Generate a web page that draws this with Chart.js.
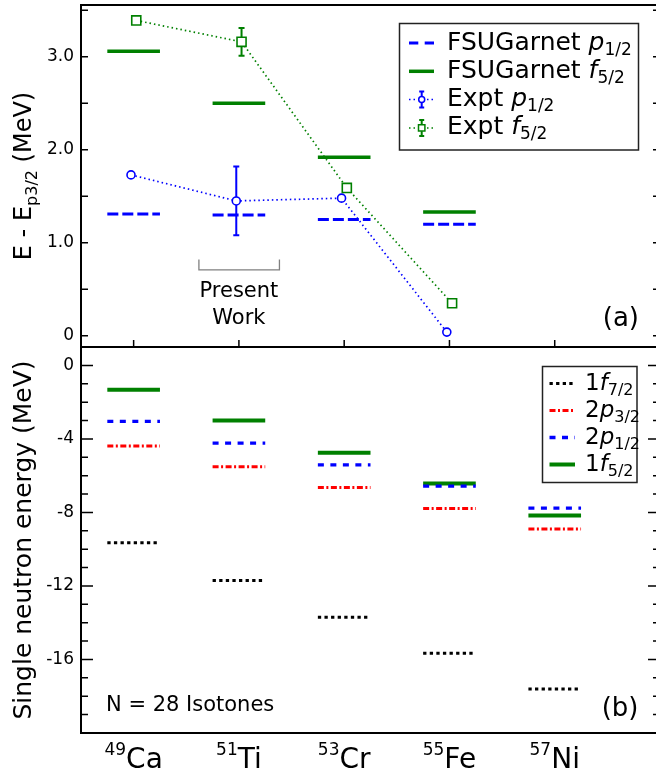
<!DOCTYPE html>
<html>
<head>
<meta charset="utf-8">
<title>N = 28 isotones</title>
<script src="https://cdn.jsdelivr.net/npm/chart.js@4.4.1/dist/chart.umd.min.js"></script>
<style>
  html, body { margin: 0; padding: 0; background: #fff; overflow: hidden; }
  body { width: 656px; height: 776px; position: relative; }
  canvas { position: absolute; left: 0; }
  #topChart { top: 0; }
  #bottomChart { top: 344px; }
</style>
</head>
<body>
<canvas id="topChart" width="662" height="350"></canvas>
<canvas id="bottomChart" width="662" height="432"></canvas>
<script>
// isotopes (categories)
const massNumbers = ['49', '51', '53', '55', '57'];
const elements = ['Ca', 'Ti', 'Cr', 'Fe', 'Ni'];

// (a) E - E(p3/2) in MeV
const garnetP12 = [1.31, 1.30, 1.25, 1.20, null];
const garnetF52 = [3.06, 2.50, 1.92, 1.33, null];
const exptP12 = [1.73, 1.45, 1.48, 0.04, null];
const exptP12Err = [0, 0.37, 0, 0, 0];
const exptF52 = [3.39, 3.16, 1.59, 0.35, null];
const exptF52Err = [0, 0.15, 0, 0, 0];

// (b) single neutron energies in MeV
const level1f72 = [-9.65, -11.70, -13.70, -15.66, -17.60];
const level2p32 = [-4.39, -5.52, -6.65, -7.79, -8.90];
const level2p12 = [-3.05, -4.23, -5.41, -6.57, -7.77];
const level1f52 = [-1.32, -3.00, -4.76, -6.43, -8.17];

// tick labels
const topTicks = [0, 1, 2, 3];
const bottomTicks = [0, -4, -8, -12, -16];

const FONT = 'DejaVu Sans';
const BLUE = '#0000ff', GREEN = '#008000', RED = '#ff0000', BLACK = '#000000';
const HALF = 0.25;   // half width of a level bar (category units)
const SHIFT = 0.025; // expt markers sit a bit off the tick
const OFF = 344;     // top of the lower canvas on the page

function levelBars(values) {
  const pts = [];
  values.forEach((v, i) => {
    if (v == null) return;
    pts.push({ x: i - HALF, y: v }, { x: i + HALF, y: v }, { x: i + HALF, y: null });
  });
  return pts;
}

function markers(values, dx) {
  return values.map((v, i) => ({ x: i + dx, y: v }));
}

// parts: [text, font, dy]
function richText(ctx, parts, x, y, align) {
  let w = 0;
  parts.forEach(p => { ctx.font = p[1]; w += ctx.measureText(p[0]).width; });
  let cx = align === 'center' ? x - w / 2 : align === 'right' ? x - w : x;
  ctx.textAlign = 'left';
  ctx.textBaseline = 'alphabetic';
  parts.forEach(p => {
    ctx.font = p[1];
    ctx.fillText(p[0], cx, y + (p[2] || 0));
    cx += ctx.measureText(p[0]).width;
  });
}

function f(size, style) {
  return (style ? style + ' ' : '') + size + 'px "' + FONT + '"';
}

function rotatedTitle(ctx, parts, x, y) {
  ctx.save();
  ctx.translate(x, y);
  ctx.rotate(-Math.PI / 2);
  ctx.fillStyle = '#000';
  richText(ctx, parts, 0, 0, 'center');
  ctx.restore();
}

function drawFrame(chart, cfg) {
  const { ctx, chartArea: a, scales: { x, y } } = chart;
  const major = y.ticks.map(t => t.value);
  ctx.save();
  ctx.strokeStyle = '#000';
  ctx.lineWidth = 1.5;
  ctx.beginPath();
  for (let v = Math.ceil(y.min / cfg.minorStep) * cfg.minorStep; v <= y.max + 1e-9; v += cfg.minorStep) {
    const py = y.getPixelForValue(v);
    const len = major.some(m => Math.abs(m - v) < 1e-6) ? cfg.majorLen : cfg.minorLen;
    ctx.moveTo(a.left, py); ctx.lineTo(a.left + len, py);
    ctx.moveTo(a.right, py); ctx.lineTo(a.right - len, py);
  }
  if (cfg.xTicks) {
    elements.forEach((e, i) => {
      const px = x.getPixelForValue(i);
      ctx.moveTo(px, a.bottom); ctx.lineTo(px, a.bottom - 7);
    });
  }
  ctx.stroke();
  ctx.lineWidth = 2;
  ctx.strokeRect(a.left, a.top, a.right - a.left, a.bottom - a.top);
  ctx.restore();
}

function drawErrorBars(chart, values, errs, dx, color) {
  const { ctx, scales: { x, y } } = chart;
  ctx.save();
  ctx.strokeStyle = color;
  ctx.lineWidth = 2;
  values.forEach((v, i) => {
    if (v == null || !errs[i]) return;
    const px = x.getPixelForValue(i + dx);
    const y1 = y.getPixelForValue(v - errs[i]);
    const y2 = y.getPixelForValue(v + errs[i]);
    ctx.beginPath();
    ctx.moveTo(px, y1); ctx.lineTo(px, y2);
    ctx.moveTo(px - 3, y1); ctx.lineTo(px + 3, y1);
    ctx.moveTo(px - 3, y2); ctx.lineTo(px + 3, y2);
    ctx.stroke();
  });
  ctx.restore();
}

function sampleLine(ctx, x1, x2, y, color, width, dash) {
  ctx.save();
  ctx.strokeStyle = color;
  ctx.lineWidth = width;
  ctx.setLineDash(dash || []);
  ctx.beginPath();
  ctx.moveTo(x1, y); ctx.lineTo(x2, y);
  ctx.stroke();
  ctx.restore();
}

function sampleMarker(ctx, x, y, color, square) {
  ctx.save();
  ctx.strokeStyle = color;
  ctx.lineWidth = 2;
  ctx.beginPath();
  ctx.moveTo(x, y - 8); ctx.lineTo(x, y + 8);
  ctx.moveTo(x - 2.5, y - 8); ctx.lineTo(x + 2.5, y - 8);
  ctx.moveTo(x - 2.5, y + 8); ctx.lineTo(x + 2.5, y + 8);
  ctx.stroke();
  ctx.fillStyle = '#fff';
  ctx.lineWidth = 1.5;
  ctx.beginPath();
  if (square) ctx.rect(x - 3.2, y - 3.2, 6.4, 6.4);
  else ctx.arc(x, y, 3, 0, Math.PI * 2);
  ctx.fill();
  ctx.stroke();
  ctx.restore();
}

function legendBox(ctx, x, y, w, h) {
  ctx.save();
  ctx.fillStyle = '#fff';
  ctx.strokeStyle = '#222';
  ctx.lineWidth = 1.5;
  ctx.fillRect(x, y, w, h);
  ctx.strokeRect(x, y, w, h);
  ctx.restore();
}

function yAxis(min, max, ticks, fmt) {
  return {
    min: min,
    max: max,
    afterBuildTicks: s => { s.ticks = ticks.map(v => ({ value: v })); },
    afterFit: s => { s.width = 81; s.paddingTop = 0; s.paddingBottom = 0; },
    grid: { display: false, drawTicks: false },
    border: { display: false },
    ticks: {
      padding: 7, autoSkip: false, color: '#000',
      font: { family: FONT, size: 17 },
      callback: fmt
    }
  };
}

const topDecor = {
  id: 'topDecor',
  beforeDatasetsDraw(chart) {
    drawErrorBars(chart, exptP12, exptP12Err, -SHIFT, BLUE);
    drawErrorBars(chart, exptF52, exptF52Err, SHIFT, GREEN);
  },
  afterDraw(chart) {
    const { ctx, scales: { x, y } } = chart;
    drawFrame(chart, { minorStep: 0.5, majorLen: 7, minorLen: 7, xTicks: true });

    // "Present Work" bracket under 51Ti
    const bx1 = x.getPixelForValue(1 - 0.38), bx2 = x.getPixelForValue(1 + 0.385);
    const by1 = y.getPixelForValue(0.82), by2 = y.getPixelForValue(0.71);
    ctx.save();
    ctx.strokeStyle = '#808080';
    ctx.lineWidth = 1.3;
    ctx.beginPath();
    ctx.moveTo(bx1, by1); ctx.lineTo(bx1, by2); ctx.lineTo(bx2, by2); ctx.lineTo(bx2, by1);
    ctx.stroke();
    ctx.fillStyle = '#000';
    richText(ctx, [['Present', f(21)]], x.getPixelForValue(1), 296.5, 'center');
    richText(ctx, [['Work', f(21)]], x.getPixelForValue(1), 323.5, 'center');
    richText(ctx, [['(a)', f(26)]], chart.chartArea.right - 21, 326, 'right');
    ctx.restore();

    // legend (a)
    legendBox(ctx, 399.5, 23.5, 239, 126.5);
    const rows = [49.5, 77.8, 106.1, 134.4];
    const lx1 = 409, lx2 = 434, tx = 447;
    sampleLine(ctx, lx1, lx2, rows[0] - 6.5, BLUE, 3, [9.3, 6.4]);
    sampleLine(ctx, lx1, lx2, rows[1] - 6.5, GREEN, 3.5);
    sampleLine(ctx, lx1, lx2, rows[2] - 6.5, BLUE, 1.5, [1.5, 3]);
    sampleMarker(ctx, 421.7, rows[2] - 6.5, BLUE, false);
    sampleLine(ctx, lx1, lx2, rows[3] - 6.5, GREEN, 1.5, [1.5, 3]);
    sampleMarker(ctx, 421.7, rows[3] - 6.5, GREEN, true);
    ctx.fillStyle = '#000';
    richText(ctx, [['FSUGarnet ', f(25)], ['p', f(25, 'italic')], ['1/2', f(17), 5]], tx, rows[0], 'left');
    richText(ctx, [['FSUGarnet ', f(25)], ['f', f(25, 'italic')], ['5/2', f(17), 5]], tx, rows[1], 'left');
    richText(ctx, [['Expt ', f(25)], ['p', f(25, 'italic')], ['1/2', f(17), 5]], tx, rows[2], 'left');
    richText(ctx, [['Expt ', f(25)], ['f', f(25, 'italic')], ['5/2', f(17), 5]], tx, rows[3], 'left');

    rotatedTitle(ctx, [['E - E', f(24)], ['p3/2', f(16), 6], [' (MeV)', f(24)]], 31, (chart.chartArea.top + chart.chartArea.bottom) / 2);
  }
};

const bottomDecor = {
  id: 'bottomDecor',
  afterDraw(chart) {
    const { ctx, chartArea: a, scales: { x } } = chart;
    drawFrame(chart, { minorStep: 1, majorLen: 12, minorLen: 7, xTicks: false });

    ctx.save();
    ctx.fillStyle = '#000';
    elements.forEach((el, i) => {
      richText(ctx, [[massNumbers[i], f(17), -12.7], [el, f(28)]], x.getPixelForValue(i), 767.7 - OFF, 'center');
    });
    richText(ctx, [['N = 28 Isotones', f(21)]], 106, 711 - OFF, 'left');
    richText(ctx, [['(b)', f(26)]], a.right - 21.5, 716 - OFF, 'right');
    ctx.restore();

    // legend (b)
    legendBox(ctx, 542.5, 366.5 - OFF, 94.5, 116);
    const rows = [390, 417, 444, 471].map(r => r - OFF);
    const lx1 = 549.5, lx2 = 575, tx = 585;
    sampleLine(ctx, lx1, lx2, rows[0] - 6.5, BLACK, 3, [3.3, 3.3]);
    sampleLine(ctx, lx1, lx2, rows[1] - 6.5, RED, 3, [6, 2.5, 2, 2.5]);
    sampleLine(ctx, lx1, lx2, rows[2] - 6.5, BLUE, 3.3, [6, 6.5]);
    sampleLine(ctx, lx1, lx2, rows[3] - 6.5, GREEN, 4);
    ctx.fillStyle = '#000';
    richText(ctx, [['1', f(23)], ['f', f(23, 'italic')], ['7/2', f(16), 5]], tx, rows[0], 'left');
    richText(ctx, [['2', f(23)], ['p', f(23, 'italic')], ['3/2', f(16), 5]], tx, rows[1], 'left');
    richText(ctx, [['2', f(23)], ['p', f(23, 'italic')], ['1/2', f(16), 5]], tx, rows[2], 'left');
    richText(ctx, [['1', f(23)], ['f', f(23, 'italic')], ['5/2', f(16), 5]], tx, rows[3], 'left');

    rotatedTitle(ctx, [['Single neutron energy (MeV)', f(25)]], 31, (a.top + a.bottom) / 2);
  }
};

const common = {
  responsive: false,
  animation: false,
  events: [],
  plugins: { legend: { display: false }, tooltip: { enabled: false } }
};

new Chart(document.getElementById('topChart'), {
  type: 'line',
  data: {
    datasets: [
      {
        label: 'Expt f5/2',
        data: markers(exptF52, SHIFT),
        borderColor: GREEN, borderWidth: 1.7, borderDash: [1.5, 3],
        pointStyle: 'rect', pointRadius: 6.4, pointBorderWidth: 1.6,
        pointBorderColor: GREEN, pointBackgroundColor: '#fff'
      },
      {
        label: 'Expt p1/2',
        data: markers(exptP12, -SHIFT),
        borderColor: BLUE, borderWidth: 1.7, borderDash: [1.5, 3],
        pointStyle: 'circle', pointRadius: 4, pointBorderWidth: 1.6,
        pointBorderColor: BLUE, pointBackgroundColor: '#fff'
      },
      {
        label: 'FSUGarnet f5/2',
        data: levelBars(garnetF52),
        borderColor: GREEN, borderWidth: 3.5, pointRadius: 0
      },
      {
        label: 'FSUGarnet p1/2',
        data: levelBars(garnetP12),
        borderColor: BLUE, borderWidth: 3, borderDash: [11, 4], pointRadius: 0
      }
    ]
  },
  options: {
    ...common,
    layout: { autoPadding: false, padding: { left: 0, right: 2, top: 5, bottom: 3 } },
    scales: {
      x: { type: 'linear', min: -0.5, max: 5, display: false },
      y: yAxis(-0.12, 3.556, topTicks, v => v === 0 ? '0' : v.toFixed(1))
    }
  },
  plugins: [topDecor]
});

new Chart(document.getElementById('bottomChart'), {
  type: 'line',
  data: {
    datasets: [
      { label: '2p1/2', data: levelBars(level2p12), borderColor: BLUE, borderWidth: 3.3, borderDash: [6, 6.5], pointRadius: 0 },
      { label: '1f5/2', data: levelBars(level1f52), borderColor: GREEN, borderWidth: 4, pointRadius: 0 },
      { label: '2p3/2', data: levelBars(level2p32), borderColor: RED, borderWidth: 3, borderDash: [6, 2.5, 2, 2.5], pointRadius: 0 },
      { label: '1f7/2', data: levelBars(level1f72), borderColor: BLACK, borderWidth: 3, borderDash: [3.3, 3.3], pointRadius: 0 }
    ]
  },
  options: {
    ...common,
    layout: { autoPadding: false, padding: { left: 0, right: 2, top: 3, bottom: 43 } },
    scales: {
      x: { type: 'linear', min: -0.5, max: 5, display: false },
      y: yAxis(-20, 1, bottomTicks, v => String(v))
    }
  },
  plugins: [bottomDecor]
});
</script>
</body>
</html>
